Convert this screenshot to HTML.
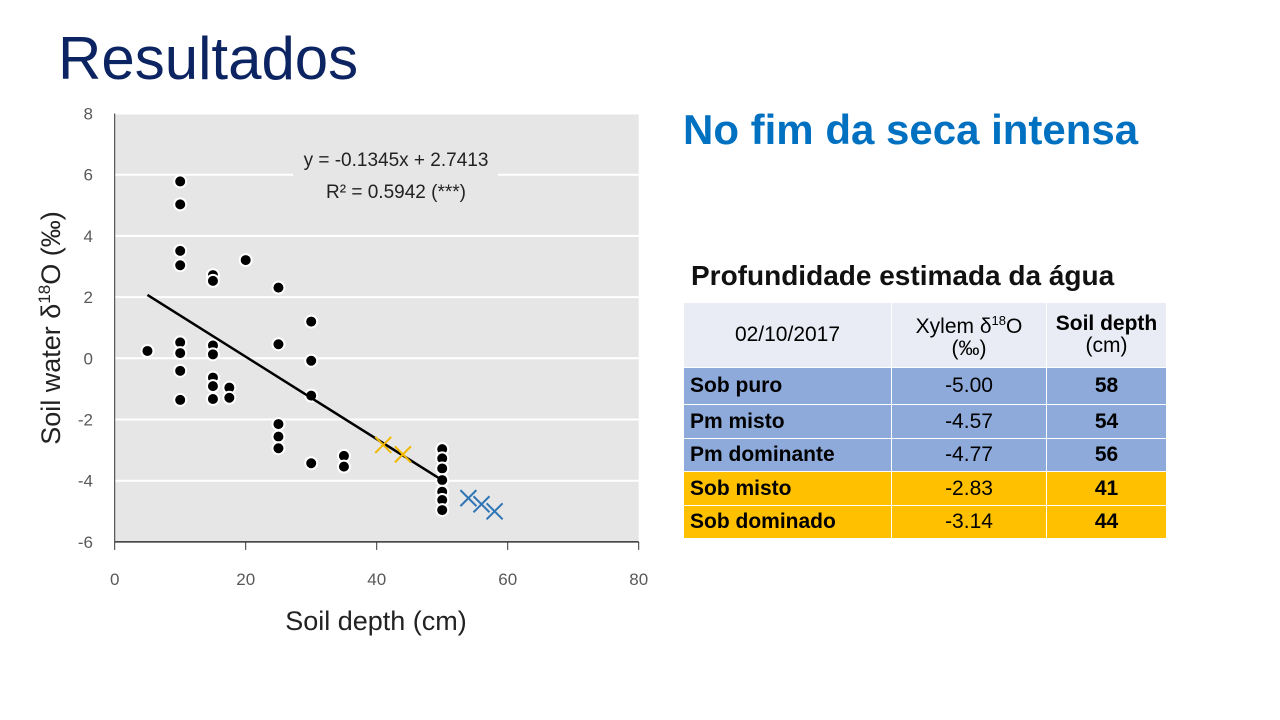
<!DOCTYPE html>
<html><head><meta charset="utf-8"><style>
body{margin:0;width:1280px;height:720px;background:#fff;overflow:hidden;position:relative;font-family:"Liberation Sans",sans-serif}
.abs{position:absolute}
table{border-collapse:collapse;position:absolute;left:683px;top:302px;font-family:"Liberation Sans Narrow","Liberation Sans",sans-serif;font-size:21px}
td{border:1px solid #fff;padding:0 6px;height:32px;line-height:22px}
</style></head><body>
<div class="abs" style="left:58px;top:24px;font-size:60px;color:#0c2461;font-family:'Liberation Sans Narrow','Liberation Sans',sans-serif">Resultados</div>
<div class="abs" style="left:683px;top:106px;font-size:42px;font-weight:bold;color:#0070c0;font-family:'Liberation Sans Narrow','Liberation Sans',sans-serif">No fim da seca intensa</div>
<div class="abs" style="left:691px;top:260px;font-size:28px;font-weight:bold;color:#111;font-family:'Liberation Sans Narrow','Liberation Sans',sans-serif">Profundidade estimada da água</div>
<table>
<tr style="background:#e9ebf5;height:65px"><td style="width:195px;text-align:center">02/10/2017</td><td style="width:142px;text-align:center">Xylem δ<sup style="font-size:13px">18</sup>O<br>(‰)</td><td style="width:107px;text-align:center"><b>Soil depth</b><br>(cm)</td></tr>
<tr style="background:#8eaadb;height:37px"><td><b>Sob puro</b></td><td style="text-align:center">-5.00</td><td style="text-align:center"><b>58</b></td></tr>
<tr style="background:#8eaadb;height:34px"><td><b>Pm misto</b></td><td style="text-align:center">-4.57</td><td style="text-align:center"><b>54</b></td></tr>
<tr style="background:#8eaadb;height:33px"><td><b>Pm dominante</b></td><td style="text-align:center">-4.77</td><td style="text-align:center"><b>56</b></td></tr>
<tr style="background:#ffc000;height:34px"><td><b>Sob misto</b></td><td style="text-align:center">-2.83</td><td style="text-align:center"><b>41</b></td></tr>
<tr style="background:#ffc000;height:33px"><td><b>Sob dominado</b></td><td style="text-align:center">-3.14</td><td style="text-align:center"><b>44</b></td></tr>
</table>
<svg id="chart" class="abs" style="left:0;top:0" width="680" height="720"></svg>
<script>
const ptX=[5,10,10,10,10,10,10,10,10,15,15,15,15,15,15,15,17.5,17.5,20,25,25,25,25,25,30,30,30,30,35,35,50,50,50,50,50,50,50];
const ptY=[0.24,5.78,5.03,3.51,3.04,0.52,0.17,-0.41,-1.36,2.72,2.53,0.42,0.13,-0.63,-0.91,-1.33,-0.96,-1.29,3.21,2.31,0.46,-2.15,-2.56,-2.94,1.20,-0.08,-1.22,-3.43,-3.19,-3.54,-2.97,-3.27,-3.60,-3.98,-4.36,-4.63,-4.96];
const yellowX=[41,44], yellowY=[-2.83,-3.14];
const blueX=[54,56,58], blueY=[-4.57,-4.77,-5.00];
const slope=-0.1345, intercept=2.7413, fitRange=[5,50];
const xTicks=[0,20,40,60,80], yTicks=[-6,-4,-2,0,2,4,6,8];
const svg=document.getElementById('chart');const NS='http://www.w3.org/2000/svg';
const X=v=>114.7+v*6.55, Y=v=>358.3-v*30.6;
function mk(t,a,p){const e=document.createElementNS(NS,t);for(const k in a)e.setAttribute(k,a[k]);(p||svg).appendChild(e);return e;}
let r=mk('rect',{x:X(0),y:Y(8),width:X(80)-X(0),height:Y(-6)-Y(8),fill:'#e6e6e6'});


yTicks.forEach(t=>{
 if(t>-6){let g=mk('line',{x1:X(0),x2:X(80),y1:Y(t),y2:Y(t),stroke:'#fff','stroke-width':2});
 
 }
 let l=mk('text',{x:93,y:Y(t)+6,'text-anchor':'end','font-size':17,fill:'#595959','font-family':'Liberation Sans Narrow, Liberation Sans, sans-serif'});l.textContent=t;
 
 
});
mk('line',{x1:X(0),x2:X(0),y1:Y(8),y2:Y(-6),stroke:'#333','stroke-width':1});
mk('line',{x1:X(0),x2:X(80),y1:Y(-6),y2:Y(-6),stroke:'#333','stroke-width':1.5});
xTicks.forEach(t=>{
 mk('line',{x1:X(t),x2:X(t),y1:Y(-6),y2:Y(-6)+8,stroke:'#333'});
 let l=mk('text',{x:X(t),y:585,'text-anchor':'middle','font-size':17,fill:'#595959','font-family':'Liberation Sans Narrow, Liberation Sans, sans-serif'});l.textContent=t;
 
 
});
ptX.forEach((x,i)=>{let c=mk('circle',{cx:X(x),cy:Y(ptY[i]),r:6,fill:'#000',stroke:'#fff','stroke-width':2});
 
 });
let fl=mk('line',{x1:X(fitRange[0]),y1:Y(slope*fitRange[0]+intercept),x2:X(fitRange[1]),y2:Y(slope*fitRange[1]+intercept),stroke:'#000','stroke-width':2.5});


function cross(x,y,col){const cx=X(x),cy=Y(y),s=8;const g=mk('g',{stroke:col,'stroke-width':2});
 mk('line',{x1:cx-s,y1:cy-s,x2:cx+s,y2:cy+s},g);mk('line',{x1:cx-s,y1:cy+s,x2:cx+s,y2:cy-s},g);return g;}
yellowX.forEach((x,i)=>{const g=cross(x,yellowY[i],'#f2b800');
 
 });
blueX.forEach((x,i)=>{const g=cross(x,blueY[i],'#2e75b6');
 
 });
let eb=mk('rect',{x:293,y:143,width:205,height:65,fill:'#e6e6e6'});
const F='Liberation Sans Narrow, Liberation Sans, sans-serif';
let e1=mk('text',{x:396,y:166,'text-anchor':'middle','font-size':19,fill:'#222','font-family':F});e1.textContent='y = -0.1345x + 2.7413';


let e2=mk('text',{x:396,y:198,'text-anchor':'middle','font-size':19,fill:'#222','font-family':F});e2.textContent='R² = 0.5942 (***)';


let xt=mk('text',{x:376,y:630,'text-anchor':'middle','font-size':27,fill:'#222','font-family':F});xt.textContent='Soil depth (cm)';


let yt=mk('text',{x:0,y:0,'text-anchor':'middle','font-size':27,fill:'#222','font-family':F,transform:'translate(60,328) rotate(-90)'});
yt.innerHTML='Soil water δ<tspan font-size="17" dy="-10">18</tspan><tspan dy="10">O (‰)</tspan>';


</script>
</body></html>
